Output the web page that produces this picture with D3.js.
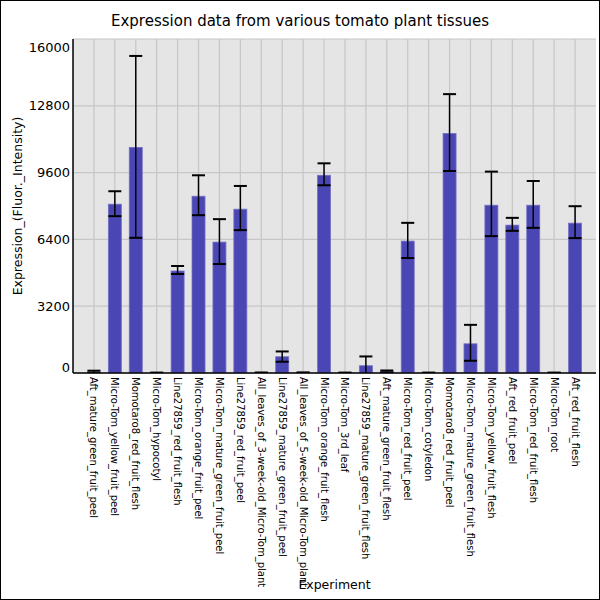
<!DOCTYPE html>
<html lang="en">
<head>
<meta charset="UTF-8">
<title>Tomato expression</title>
<style>
  body { margin: 0; }
  text { font-family: "DejaVu Sans", sans-serif; }
</style>
</head>
<body>
<div id="chart"></div>
<script src="https://d3js.org/d3.v7.min.js"></script>
<script>
var categories = [
  "Aft_mature_green_fruit_peel", "Micro-Tom_yellow_fruit_peel", "Momotaro8_red_fruit_flesh",
  "Micro-Tom_hypocotyl", "Line27859_red_fruit_flesh", "Micro-Tom_orange_fruit_peel",
  "Micro-Tom_mature_green_fruit_peel", "Line27859_red_fruit_peel", "All_leaves_of_3-week-old_Micro-Tom_plant",
  "Line27859_mature_green_fruit_peel", "All_leaves_of_5-week-old_Micro-Tom_plant", "Micro-Tom_orange_fruit_flesh",
  "Micro-Tom_3rd_leaf", "Line27859_mature_green_fruit_flesh", "Aft_mature_green_fruit_flesh",
  "Micro-Tom_red_fruit_peel", "Micro-Tom_cotyledon", "Momotaro8_red_fruit_peel",
  "Micro-Tom_mature_green_fruit_flesh", "Micro-Tom_yellow_fruit_flesh", "Aft_red_fruit_peel",
  "Micro-Tom_red_fruit_flesh", "Micro-Tom_root", "Aft_red_fruit_flesh"
];
var values = [50, 8086, 10808, 10, 4886, 8468, 6271, 7847, 10, 778, 15, 9471,
              10, 349, 70, 6319, 10, 11477, 1399, 8038, 7083, 8038, 10, 7178];
var errHigh = [110, 8707, 15188, 20, 5125, 9471, 7370, 8960, 25, 1032, 30, 10044,
               20, 793, 120, 7193, 20, 13359, 2307, 9647, 7432, 9199, 20, 7990];
var errLow = [-10, 7513, 6476, 0, 4742, 7560, 5220, 6844, -5, 540, 0, 8993,
              0, -95, 20, 5507, 0, 9676, 587, 6557, 6811, 6954, 0, 6462];
var yTicks = [0, 3200, 6400, 9600, 12800, 16000];

(function() {
  var width = 600, height = 600;
  var left = 73, right = 596, top = 39, bottom = 373;

  var svg = d3.select("#chart").append("svg")
    .attr("width", width)
    .attr("height", height);

  svg.append("rect")
    .attr("width", width).attr("height", height)
    .attr("fill", "#fff");

  var x = d3.scalePoint()
    .domain(categories)
    .range([left, right])
    .padding(1);
  var barW = 13;

  var y = d3.scaleLinear()
    .domain([0, 16000])
    .range([bottom, top]);

  // plot background
  svg.append("rect")
    .attr("x", left).attr("y", top)
    .attr("width", right - left).attr("height", bottom - top)
    .attr("fill", "#e5e5e5");

  svg.append("defs").append("clipPath").attr("id", "plot")
    .append("rect")
    .attr("x", left).attr("y", top)
    .attr("width", right - left).attr("height", bottom - top);

  // grid
  svg.append("g").selectAll("line")
    .data(yTicks)
    .enter().append("line")
    .attr("x1", left).attr("x2", right)
    .attr("y1", function(d) { return y(d); })
    .attr("y2", function(d) { return y(d); })
    .attr("stroke", "#c6c6c6")
    .attr("stroke-width", 1.2);

  svg.append("g").selectAll("line")
    .data(categories)
    .enter().append("line")
    .attr("x1", function(d) { return x(d); })
    .attr("x2", function(d) { return x(d); })
    .attr("y1", top).attr("y2", bottom)
    .attr("stroke", "#c6c6c6")
    .attr("stroke-width", 1.2);

  var plot = svg.append("g").attr("clip-path", "url(#plot)");

  // bars
  plot.selectAll(".bar")
    .data(categories)
    .enter().append("rect")
    .attr("class", "bar")
    .attr("x", function(d) { return x(d) - barW / 2; })
    .attr("y", function(d, i) { return y(values[i]); })
    .attr("width", barW)
    .attr("height", function(d, i) { return y(0) - y(values[i]); })
    .attr("fill", "#4a46b3")
    .attr("stroke", "#7471c6")
    .attr("stroke-width", 0.8);

  // error bars
  var eb = plot.selectAll(".err")
    .data(categories)
    .enter().append("g")
    .attr("class", "err");

  eb.append("line")
    .attr("x1", function(d) { return x(d); })
    .attr("x2", function(d) { return x(d); })
    .attr("y1", function(d, i) { return y(errHigh[i]); })
    .attr("y2", function(d, i) { return y(errLow[i]); })
    .attr("stroke", "#000")
    .attr("stroke-width", 1.5);

  [errHigh, errLow].forEach(function(arr) {
    eb.append("line")
      .attr("x1", function(d) { return x(d) - barW / 2; })
      .attr("x2", function(d) { return x(d) + barW / 2; })
      .attr("y1", function(d, i) { return y(arr[i]); })
      .attr("y2", function(d, i) { return y(arr[i]); })
      .attr("stroke", "#000")
      .attr("stroke-width", 2);
  });

  // axes lines
  svg.append("line")
    .attr("x1", left).attr("x2", left)
    .attr("y1", top).attr("y2", bottom)
    .attr("stroke", "#000").attr("stroke-width", 1.5);
  svg.append("line")
    .attr("x1", left).attr("x2", right)
    .attr("y1", bottom).attr("y2", bottom)
    .attr("stroke", "#000").attr("stroke-width", 1.5);

  // y tick labels, end ones kept inside the plot
  svg.append("g").selectAll("text")
    .data(yTicks)
    .enter().append("text")
    .attr("x", left - 3)
    .attr("y", function(d) { return Math.max(top + 8, Math.min(bottom - 6, y(d))); })
    .attr("dy", "0.35em")
    .attr("text-anchor", "end")
    .attr("font-size", 13)
    .text(function(d) { return d; });

  // x tick labels
  svg.append("g").selectAll("text")
    .data(categories)
    .enter().append("text")
    .attr("transform", function(d) { return "translate(" + x(d) + "," + (bottom + 4) + ") rotate(90)"; })
    .attr("dy", "0.35em")
    .attr("font-size", 10)
    .text(function(d) { return d; });

  // titles
  svg.append("text")
    .attr("x", 300).attr("y", 26)
    .attr("text-anchor", "middle")
    .attr("font-size", 15)
    .text("Expression data from various tomato plant tissues");

  svg.append("text")
    .attr("transform", "translate(22," + ((top + bottom) / 2) + ") rotate(-90)")
    .attr("text-anchor", "middle")
    .attr("font-size", 12.5)
    .text("Expression_(Fluor._Intensity)");

  svg.append("text")
    .attr("x", (left + right) / 2).attr("y", 589)
    .attr("text-anchor", "middle")
    .attr("font-size", 12.5)
    .text("Experiment");

  // outer frame
  svg.append("rect")
    .attr("x", 0.5).attr("y", 0.5)
    .attr("width", width - 1).attr("height", height - 1)
    .attr("fill", "none")
    .attr("stroke", "#000");
})();
</script>
</body>
</html>
